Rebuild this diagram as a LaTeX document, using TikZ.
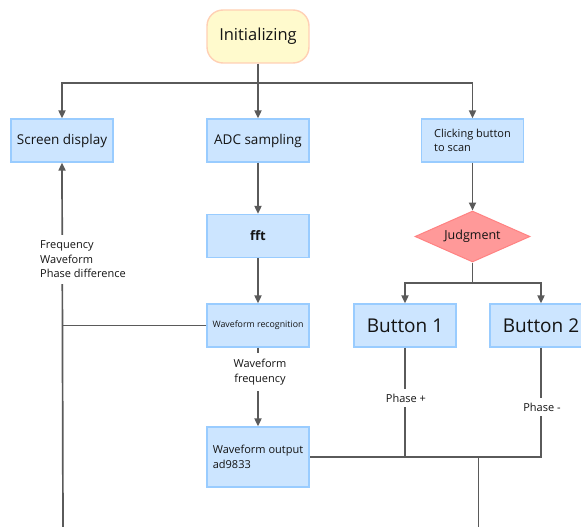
\documentclass[tikz,border=0pt]{standalone}
\usepackage{fontspec}
\setmainfont{Open Sans}
\usetikzlibrary{shapes.geometric,arrows.meta}
\definecolor{boxfill}{RGB}{204,229,255}
\definecolor{boxline}{RGB}{153,204,255}
\definecolor{initfill}{RGB}{255,250,205}
\definecolor{initline}{RGB}{255,208,180}
\definecolor{judgefill}{RGB}{255,153,153}
\definecolor{judgeline}{RGB}{255,130,130}
\definecolor{linegray}{RGB}{90,90,90}
\newcommand{\fs}[2]{\fontsize{#1}{#2}\selectfont}
\tikzset{
  procbox/.style={rectangle, fill=boxfill, draw=boxline, line width=1.2pt,
    minimum width=102pt, minimum height=43pt, inner sep=2pt, text=black!92},
  conn/.style={draw=linegray, line width=1.7pt},
  arr/.style={conn, -{Triangle[length=8pt,width=7pt]}},
  lbl/.style={fill=white, inner sep=3pt, text=black!92, font=\fs{11}{14.5}, align=left},
}
\begin{document}
\begin{tikzpicture}[x=1pt,y=-1pt]
\useasboundingbox (0,0) rectangle (581,527);
\clip (0,0) rectangle (581,527);
% nodes
\node[rectangle, rounded corners=16pt, fill=initfill, draw=initline, line width=1.4pt,
      minimum width=102pt, minimum height=53pt, font=\fs{16.5}{19}, text=black!92] (init) at (258,36.5) {Initializing};
\node[procbox, font=\fs{13.5}{16}] (sd) at (62,140.5) {Screen display};
\node[procbox, font=\fs{13.5}{16}] (adc) at (258,140.5) {ADC sampling};
\node[procbox, font=\fs{11}{14.5}, align=left] (cb) at (472.5,140.5) {Clicking button\\to scan};
\node[procbox, font=\bfseries\fs{13}{16}] (fft) at (258,236) {fft};
\node[diamond, aspect=2.25, fill=judgefill, draw=judgeline, line width=1pt,
      minimum width=115pt, minimum height=51pt, inner sep=0pt, font=\fs{12.5}{15}, text=black!92] (jd) at (472.5,236.5) {Judgment};
\node[procbox, font=\fs{8.8}{11}] (wr) at (258,325.5) {Waveform recognition};
\node[procbox, font=\fs{19}{22}] (b1) at (405,325.5) {Button 1};
\node[procbox, font=\fs{19}{22}] (b2) at (541,325.5) {Button 2};
\node[procbox, minimum height=60pt, font=\fs{11}{14.5}, align=left] (wo) at (258,457) {Waveform output\\ad9833};
% coordinates
\coordinate (split) at (258,83);
\coordinate (jsplit) at (472.5,283);
\coordinate (join) at (478.5,457);
\coordinate (leftbot) at (63,530);
\coordinate (joinbot) at (478.5,530);
% connectors
\draw[conn] (init.south) -- (split);
\draw[arr] (split) -| (sd.north);
\draw[arr] (split) -- (adc.north);
\draw[arr] (split) -| (cb.north);
\draw[arr] (adc.south) -- (fft.north);
\draw[arr] (fft.south) -- (wr.north);
\draw[arr] (cb.south) -- (jd.north);
\draw[conn] (jd.south) -- (jsplit);
\draw[arr] (jsplit) -| (b1.north);
\draw[arr] (jsplit) -| (b2.north);
\draw[arr] (leftbot) -- (sd.south);
\draw[conn] (wr.west) -- (wr.west -| sd.south);
\draw[arr] (wr.south) -- (wo.north);
\draw[conn] (b1.south) -- (b1.south |- wo.east);
\draw[conn] (b2.south) -- (b2.south |- wo.east) -- (wo.east);
\draw[conn] (join) -- (joinbot);
% labels
\node[lbl, inner ysep=6pt] (l1) at (83,259.5) {Frequency\\Waveform\\Phase difference};
\node[lbl, align=center, inner ysep=6pt] (l2) at (260,372) {Waveform\\frequency};
\node[lbl, inner ysep=5pt] (l3) at (406,398) {Phase +};
\node[lbl, inner ysep=5pt] (l4) at (542,407) {Phase -};
\end{tikzpicture}
\end{document}
